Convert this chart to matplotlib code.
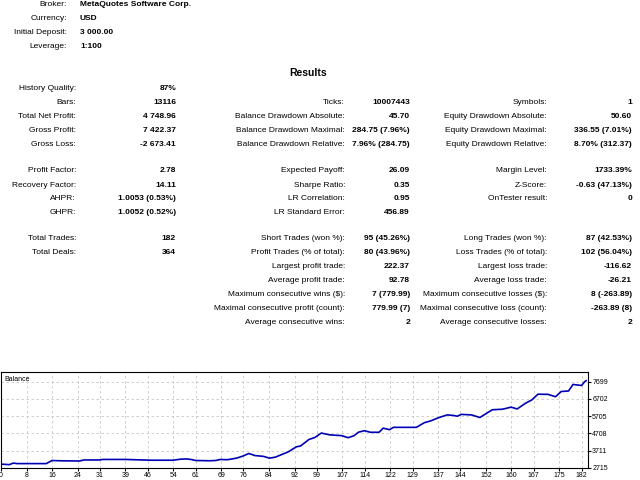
import matplotlib
matplotlib.use('Agg')
import matplotlib.pyplot as plt

# header info
head_labels = ['Broker:', 'Currency:', 'Initial Deposit:', 'Leverage:']
head_values = ['MetaQuotes Software Corp.', 'USD', '3 000.00', '1:100']

# results table: (label, value) per column, rows by y pixel
col1 = [('History Quality:', '87%', 89), ('Bars:', '13116', 103), ('Total Net Profit:', '4 748.96', 117),
        ('Gross Profit:', '7 422.37', 131), ('Gross Loss:', '-2 673.41', 145),
        ('Profit Factor:', '2.78', 171), ('Recovery Factor:', '14.11', 185),
        ('AHPR:', '1.0053 (0.53%)', 199), ('GHPR:', '1.0052 (0.52%)', 213),
        ('Total Trades:', '182', 238), ('Total Deals:', '364', 253)]
col2 = [('Ticks:', '10007443', 103), ('Balance Drawdown Absolute:', '45.70', 117),
        ('Balance Drawdown Maximal:', '284.75 (7.96%)', 131), ('Balance Drawdown Relative:', '7.96% (284.75)', 145),
        ('Expected Payoff:', '26.09', 171), ('Sharpe Ratio:', '0.35', 185),
        ('LR Correlation:', '0.95', 199), ('LR Standard Error:', '456.89', 213),
        ('Short Trades (won %):', '95 (45.26%)', 238), ('Profit Trades (% of total):', '80 (43.96%)', 253),
        ('Largest profit trade:', '222.37', 267), ('Average profit trade:', '92.78', 281),
        ('Maximum consecutive wins ($):', '7 (779.99)', 295), ('Maximal consecutive profit (count):', '779.99 (7)', 309),
        ('Average consecutive wins:', '2', 323)]
col3 = [('Symbols:', '1', 103), ('Equity Drawdown Absolute:', '50.60', 117),
        ('Equity Drawdown Maximal:', '336.55 (7.01%)', 131), ('Equity Drawdown Relative:', '8.70% (312.37)', 145),
        ('Margin Level:', '1733.39%', 171), ('Z-Score:', '-0.63 (47.13%)', 185),
        ('OnTester result:', '0', 199),
        ('Long Trades (won %):', '87 (42.53%)', 238), ('Loss Trades (% of total):', '102 (56.04%)', 253),
        ('Largest loss trade:', '-116.62', 267), ('Average loss trade:', '-26.21', 281),
        ('Maximum consecutive losses ($):', '8 (-263.89)', 295), ('Maximal consecutive loss (count):', '-263.89 (8)', 309),
        ('Average consecutive losses:', '2', 323)]

# balance curve (trade number, balance)
trade = [0, 2.6, 3.9, 5, 14.2, 16, 18, 24.6, 26, 31.1, 31.7, 39, 47.3, 53.8, 56.3, 58, 59.6, 61, 65.4, 67.3,
         68.7, 71, 73.8, 75.8, 77.7, 79.6, 82.2, 84.2, 86, 90, 92.6, 93.9, 96.5, 98.4, 100.4, 103, 106.8,
         108.8, 110.7, 112, 113.9, 115.8, 118.5, 119.8, 121.8, 123, 130.2, 132.7, 134.7, 137.3, 139.9,
         141.8, 143, 144.3, 147.5, 150.1, 151.4, 154, 157.2, 159.9, 161.8, 164.4, 166.4, 168.3, 171.5,
         173.8, 175.6, 177.9, 179.3, 180.6, 182, 182.9, 183.4]
balance = [2939, 2909, 2999, 2969, 2969, 3148, 3133, 3118, 3178, 3178, 3208, 3208, 3163, 3163, 3223, 3238,
           3208, 3148, 3133, 3148, 3208, 3193, 3282, 3402, 3551, 3432, 3387, 3282, 3342, 3641, 3939, 3984,
           4357, 4477, 4730, 4626, 4581, 4462, 4581, 4775, 4865, 4775, 4775, 5014, 4924, 5059, 5059, 5328,
           5432, 5626, 5776, 5746, 5701, 5806, 5776, 5626, 5776, 6074, 6104, 6224, 6119, 6448, 6642, 6970,
           6960, 6823, 7125, 7155, 7532, 7502, 7472, 7683, 7749]
xticks = [0, 8, 16, 24, 31, 39, 46, 54, 61, 69, 76, 84, 92, 99, 107, 114, 122, 129, 137, 144, 152, 160, 167, 175, 182]
yticks = [2715, 3711, 4708, 5705, 6702, 7699]

W, H = 640, 480
fig = plt.figure(figsize=(6.4, 4.8), dpi=100)
fs = 6.0

def put(x, y, s, ha='right', bold=False, size=fs):
    fig.text(x / W, 1 - y / H, s, ha=ha, va='center', fontsize=size,
             fontweight='bold' if bold else 'normal', family='Liberation Sans')

for i, (l, v) in enumerate(zip(head_labels, head_values)):
    y = 5 + 14 * i
    put(67, y, l)
    put(80, y, v, ha='left', bold=True)

put(308, 73, 'Results', ha='center', bold=True, size=7.5)

for l, v, y in col1:
    put(76, y, l)
    put(176, y, v, bold=True)
for l, v, y in col2:
    put(345, y, l)
    put(410, y, v, bold=True)
for l, v, y in col3:
    put(547, y, l)
    put(632, y, v, bold=True)

ax = fig.add_axes([1 / W, 1 - 468 / H, 587 / W, 96 / H])
ax.plot(trade, balance, color='#0000b4', lw=1.2)
ax.set_xlim(0, 184)
ax.set_ylim(2715, 8250)
ax.set_xticks(xticks)
ax.set_yticks(yticks)
ax.yaxis.tick_right()
ax.tick_params(labelsize=5, length=2, pad=1)
for t in ax.get_xticklabels() + ax.get_yticklabels():
    t.set_family('Liberation Sans')
ax.grid(True, color='#c8c8c8', ls=(0, (3, 3)), lw=0.6)
ax.text(0.005, 0.96, 'Balance', transform=ax.transAxes, fontsize=5, va='top', family='Liberation Sans')
for s in ax.spines.values():
    s.set_linewidth(0.8)

fig.savefig('out.png', dpi=100)
